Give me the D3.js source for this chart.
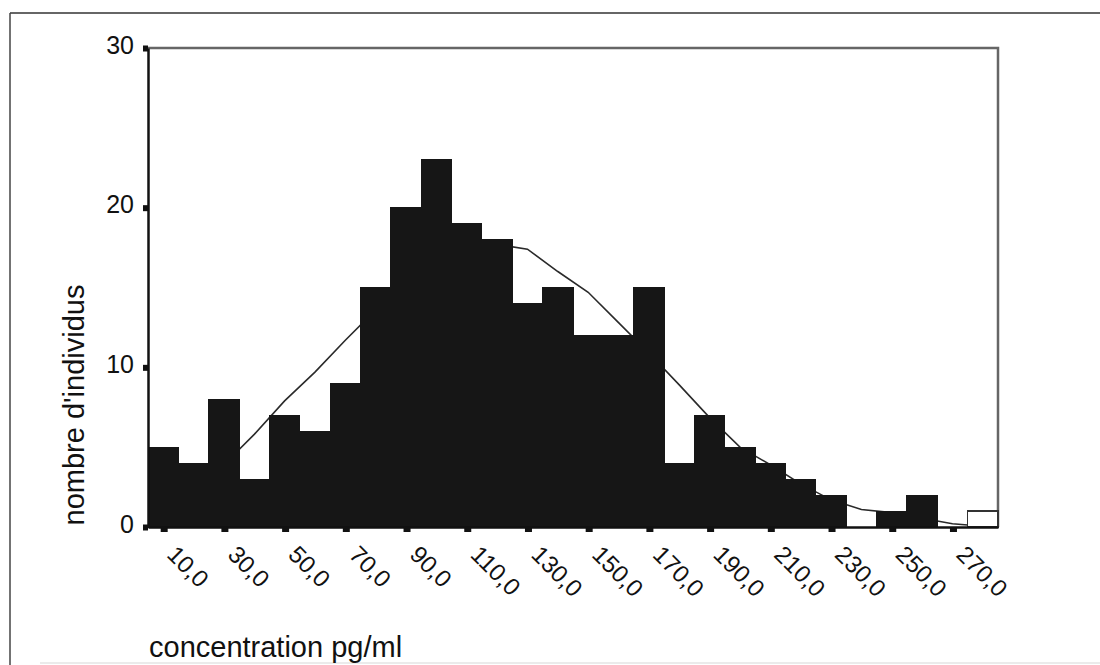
<!DOCTYPE html>
<html>

<head>
  <meta charset="UTF-8">
  <title>histogramme concentration</title>
  <style type="text/css">
    body {
      margin: 0;
      background: #fff;
    }

    text {
      font-family: "Liberation Sans", Arial, Helvetica, sans-serif;
      fill: #111;
    }

    .bar {
      shape-rendering: crispEdges;
    }

    .curve {
      fill: none;
      stroke: #2a2a2a;
      stroke-width: 1.6px;
    }
  </style>
</head>

<body>
  <div class="svg-zone"></div>
  <script src="https://cdn.jsdelivr.net/npm/d3@7"></script>
  <script type="text/javascript">
    // centres des classes (pas de 10 pg/ml) et effectifs
    var binCenters = [10, 20, 30, 40, 50, 60, 70, 80, 90, 100, 110, 120, 130, 140,
      150, 160, 170, 180, 190, 200, 210, 220, 230, 240, 250, 260, 270, 280];
    var counts = [5, 4, 8, 3, 7, 6, 9, 15, 20, 23, 19, 18, 14, 15,
      12, 12, 15, 4, 7, 5, 4, 3, 2, 0, 1, 2, 0, 1];
    // courbe ajustee, lue au centre de chaque classe
    var curveValues = [1.9, 2.8, 3.9, 5.8, 7.9, 9.7, 11.7, 13.6, 15.3, 16.6, 17.4, 17.7, 17.4, 16.0,
      14.7, 12.8, 10.9, 8.9, 6.85, 5.0, 3.9, 2.7, 1.7, 1.1, 0.9, 0.55, 0.2, 0.05];

    var xTickValues = [10, 30, 50, 70, 90, 110, 130, 150, 170, 190, 210, 230, 250, 270];
    var xTickLabels = ["10,0", "30,0", "50,0", "70,0", "90,0", "110,0", "130,0",
      "150,0", "170,0", "190,0", "210,0", "230,0", "250,0", "270,0"];
    var yTickValues = [0, 10, 20, 30];
    var yTickLabels = ["0", "10", "20", "30"];

    var width = 1100,
      height = 665,
      binWidth = 10,
      plotLeft = 148, plotRight = 998, plotTop = 48, plotBottom = 527;

    var x = d3.scaleLinear()
      .domain([binCenters[0] - binWidth / 2, binCenters[binCenters.length - 1] + binWidth / 2])
      .range([plotLeft, plotRight]);
    var y = d3.scaleLinear()
      .domain([0, 30])
      .range([plotBottom, plotTop]);

    var svg = d3.select(".svg-zone").append("svg")
      .attr("width", width)
      .attr("height", height);

    // cadre de la page
    svg.append("line")
      .attr("x1", 10).attr("x2", width).attr("y1", 13).attr("y2", 13)
      .attr("stroke", "#333").attr("stroke-width", 1.5);
    svg.append("line")
      .attr("x1", 10).attr("x2", 10).attr("y1", 13).attr("y2", height)
      .attr("stroke", "#444").attr("stroke-width", 1.5);
    svg.append("line")
      .attr("x1", 40).attr("x2", width).attr("y1", 663).attr("y2", 663)
      .attr("stroke", "#e4e4e4").attr("stroke-width", 1.5);

    // bord haut et droit de la zone de trace
    svg.append("path")
      .attr("d", "M" + plotLeft + "," + y(30) + "H" + x.range()[1] + "V" + y(0))
      .attr("fill", "none")
      .attr("stroke", "#666")
      .attr("stroke-width", 2.5);

    // courbe derriere les barres
    var line = d3.line()
      .x(function (d, i) { return x(binCenters[i]); })
      .y(function (d) { return y(d); });

    svg.append("path")
      .datum(curveValues)
      .attr("class", "curve")
      .attr("d", line);

    var last = counts.length - 1;
    svg.selectAll(".bar")
      .data(counts)
      .enter().append("rect")
      .attr("class", "bar")
      .attr("x", function (d, i) { return x(binCenters[i] - binWidth / 2); })
      .attr("width", function (d, i) { return x(binCenters[i] + binWidth / 2) - x(binCenters[i] - binWidth / 2); })
      .attr("y", function (d) { return y(d); })
      .attr("height", function (d) { return y(0) - y(d); })
      .attr("fill", function (d, i) { return i === last ? "#fff" : "#161616"; })
      .attr("stroke", function (d, i) { return i === last ? "#333" : "#161616"; })
      .attr("stroke-width", function (d, i) { return i === last ? 1.5 : 1; });

    // axe des x
    var xAxis = d3.axisBottom(x)
      .tickValues(xTickValues)
      .tickFormat(function (d, i) { return xTickLabels[i]; })
      .tickSize(0);

    var gx = svg.append("g")
      .attr("transform", "translate(0," + plotBottom + ")")
      .call(xAxis);
    gx.select(".domain").attr("stroke", "#111").attr("stroke-width", 2.5);
    gx.selectAll(".tick").append("rect")
      .attr("x", -3).attr("y", 0).attr("width", 7).attr("height", 5)
      .attr("fill", "#111");
    gx.selectAll(".tick text")
      .attr("font-size", 24)
      .attr("fill", "#111")
      .attr("text-anchor", "start")
      .attr("x", 0).attr("y", 0).attr("dy", 0)
      .attr("transform", "translate(2,29) rotate(45)");

    // axe des y
    var yAxis = d3.axisLeft(y)
      .tickValues(yTickValues)
      .tickFormat(function (d, i) { return yTickLabels[i]; })
      .tickSize(0)
      .tickPadding(14);

    var gy = svg.append("g")
      .attr("transform", "translate(" + plotLeft + ",0)")
      .call(yAxis);
    gy.select(".domain").attr("stroke", "#111").attr("stroke-width", 2.5);
    gy.selectAll(".tick").append("rect")
      .attr("x", -5).attr("y", -3).attr("width", 5).attr("height", 6)
      .attr("fill", "#111");
    gy.selectAll(".tick text")
      .attr("font-size", 25)
      .attr("fill", "#111")
      .attr("dy", "0.2em");

    // titres
    svg.append("text")
      .attr("transform", "translate(84,405) rotate(-90)")
      .attr("text-anchor", "middle")
      .attr("font-size", 29)
      .text("nombre d'individus");

    svg.append("text")
      .attr("x", 149)
      .attr("y", 657)
      .attr("font-size", 29)
      .text("concentration pg/ml");
  </script>

</body>

</html>
